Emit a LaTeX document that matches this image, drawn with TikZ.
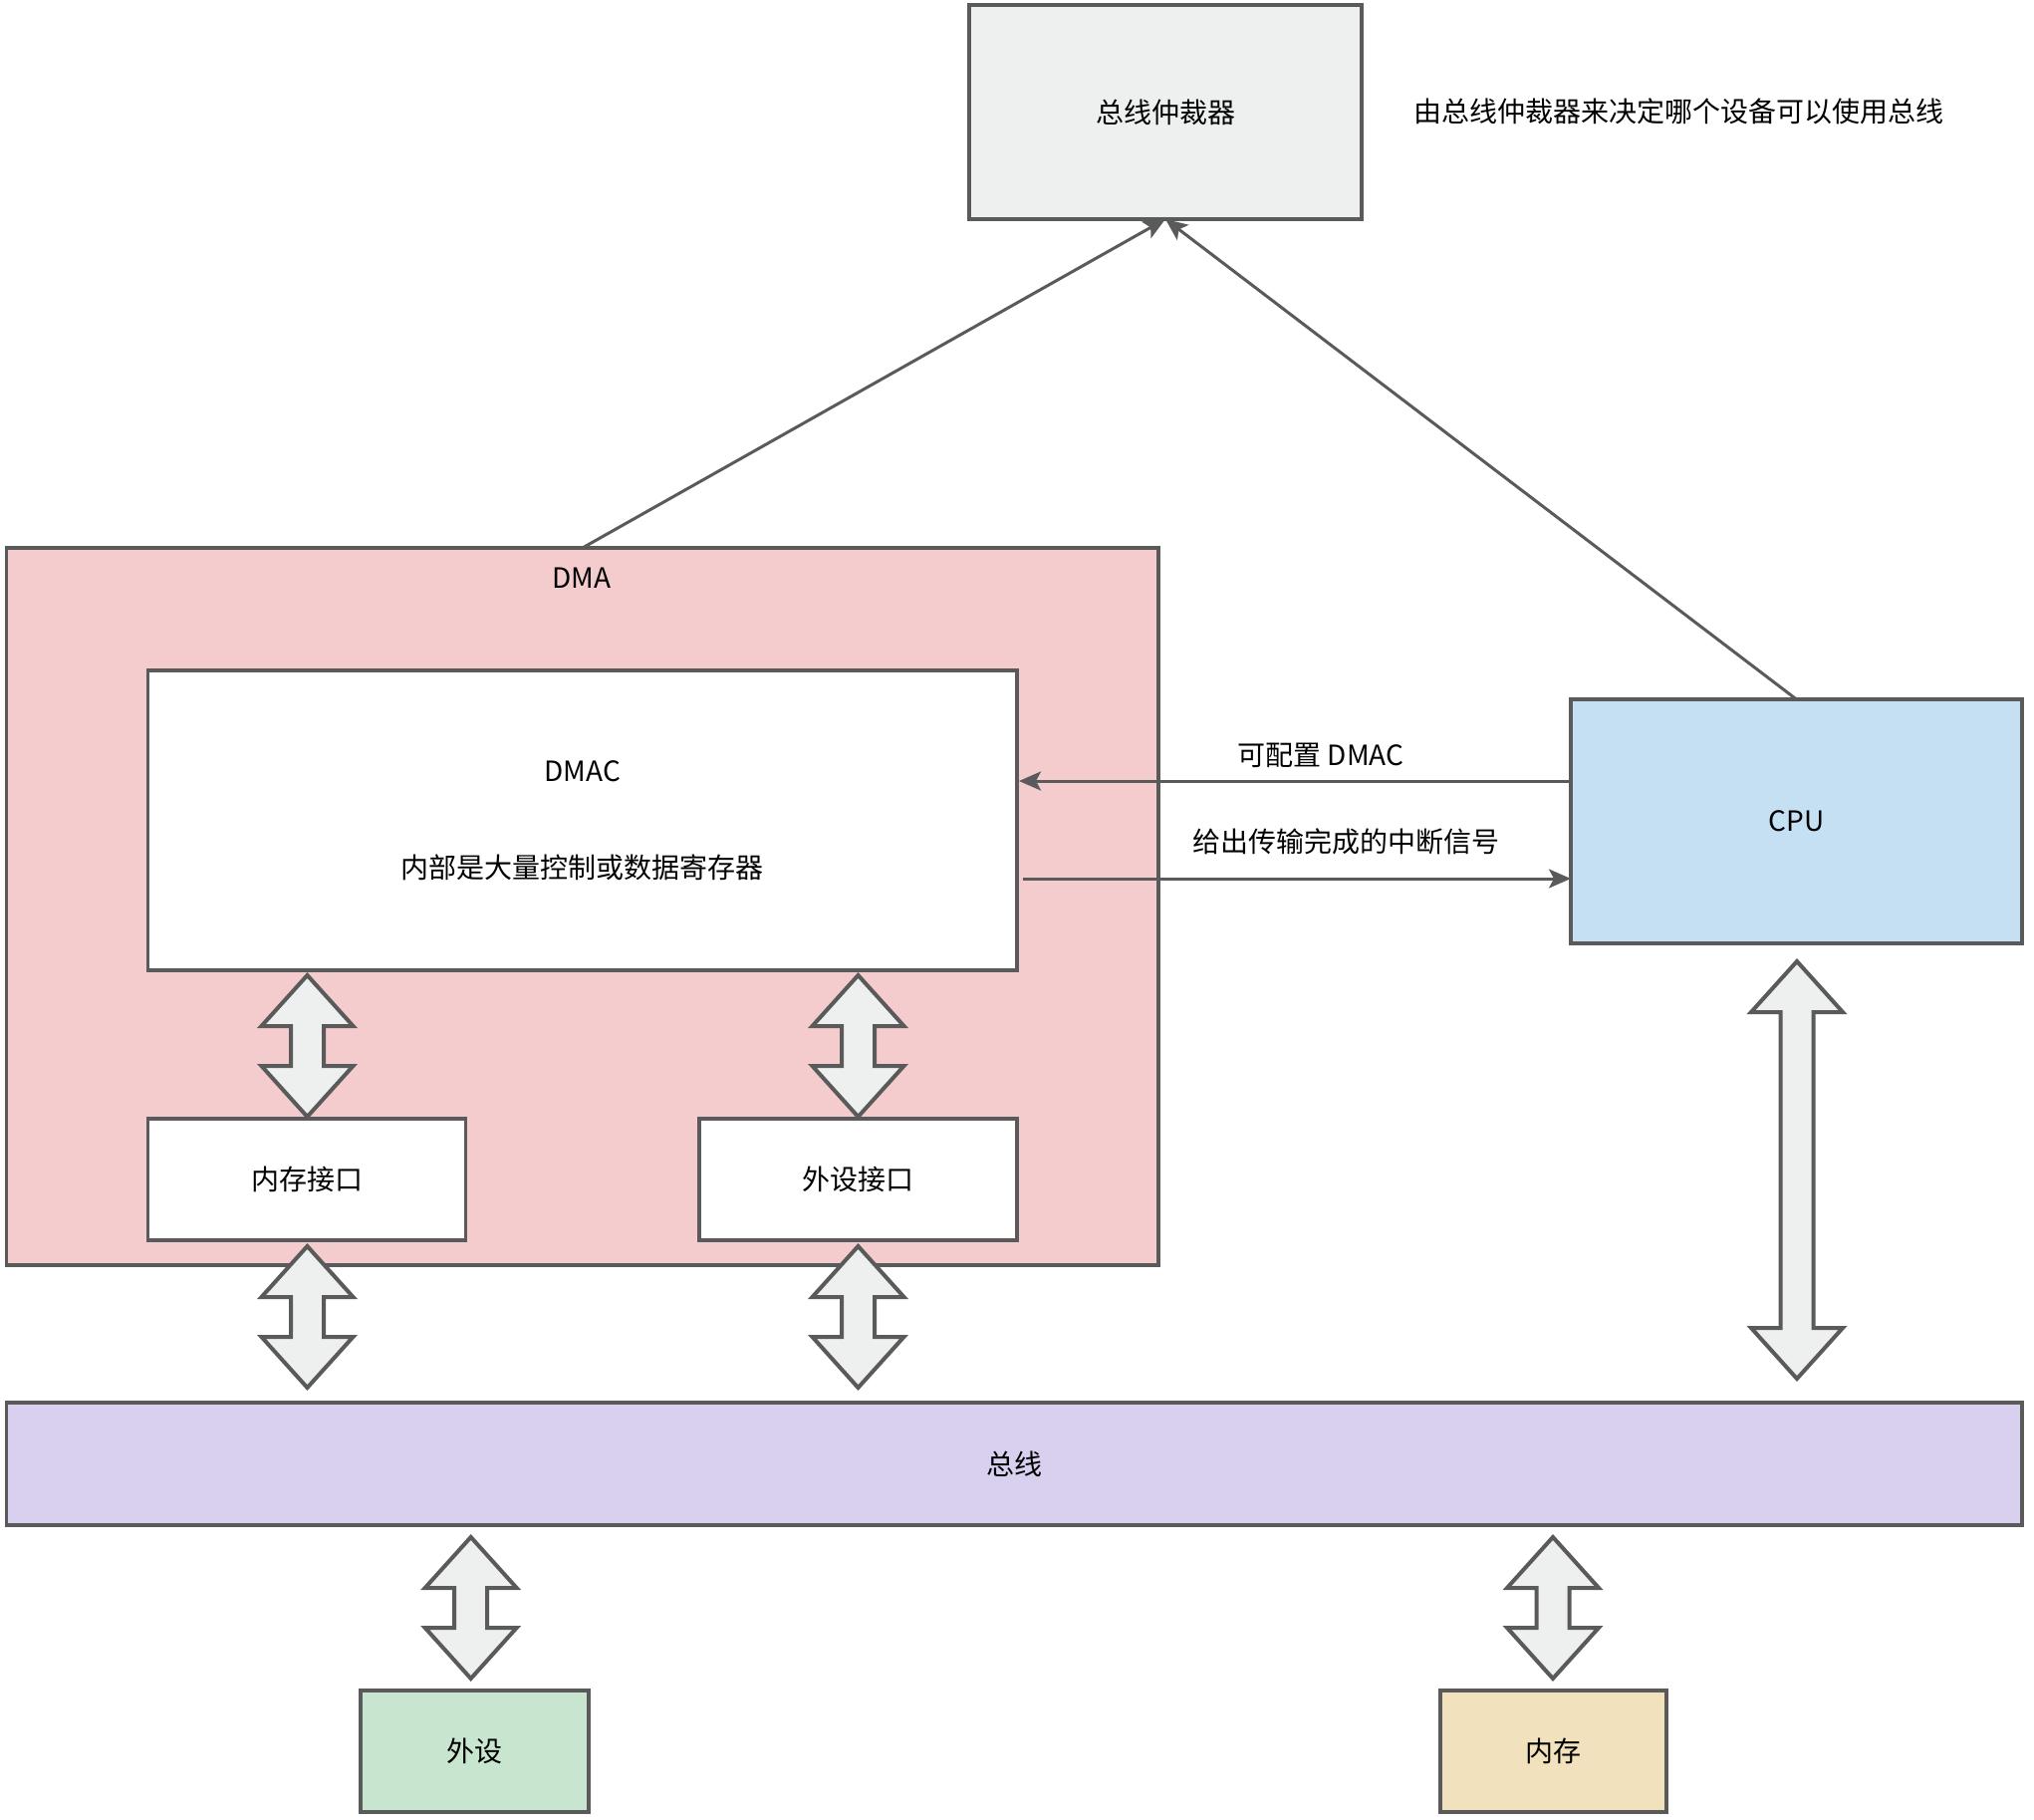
\documentclass[tikz,border=0pt]{standalone}
\usepackage{fontspec}
\setmainfont{Noto Sans CJK SC}
\usetikzlibrary{arrows.meta,calc}
\definecolor{strk}{HTML}{5A5A5A}
\definecolor{arbfill}{HTML}{EEF0EF}
\definecolor{arrfill}{HTML}{EEF0EF}
\definecolor{dmafill}{HTML}{F4CCCD}
\definecolor{cpufill}{HTML}{C5DFF3}
\definecolor{busfill}{HTML}{D9D0F0}
\definecolor{perfill}{HTML}{C8E6CF}
\definecolor{memfill}{HTML}{F2E1BD}
\newcommand\dblarr[3]{%
  \draw[barrow] (#1,#2) -- (#1+46,#2+51) -- (#1+16.5,#2+51) -- (#1+16.5,#3-51)
    -- (#1+46,#3-51) -- (#1,#3) -- (#1-46,#3-51) -- (#1-16.5,#3-51)
    -- (#1-16.5,#2+51) -- (#1-46,#2+51) -- cycle;}
\begin{document}
\begin{tikzpicture}[x=1pt,y=-1pt,
  font=\fontsize{28}{36}\selectfont,
  box/.style={draw=strk, line width=3.5pt, rectangle, inner sep=0pt, outer sep=0pt},
  conn/.style={draw=strk, line width=3pt, -{Stealth[length=22pt,width=19pt,inset=5pt]}},
  barrow/.style={draw=strk, line width=4pt, fill=arrfill, line join=miter}]
\useasboundingbox (0,0) rectangle (2042,1826);

\node[box, fill=arbfill, minimum width=394pt, minimum height=215pt] (arb) at (1170,112.5) {总线仲裁器};
\node (note) at (1685,112) {由总线仲裁器来决定哪个设备可以使用总线};

\node[box, fill=dmafill, minimum width=1156.5pt, minimum height=720pt] (dma) at (584.75,910) {};
\node (dmat) at (584,580) {DMA};
\node[box, fill=white, minimum width=872.5pt, minimum height=301pt, align=center] (dmac) at (584.75,823.5) {DMAC\\[61pt]内部是大量控制或数据寄存器};
\node[box, fill=white, minimum width=319pt, minimum height=122pt] (mif) at (308,1184) {内存接口};
\node[box, fill=white, minimum width=319pt, minimum height=122pt] (pif) at (861.5,1184) {外设接口};

\node[box, fill=cpufill, minimum width=453pt, minimum height=245pt] (cpu) at (1803.5,824.5) {CPU};
\node[box, fill=busfill, minimum width=2023.5pt, minimum height=123pt] (bus) at (1018.25,1469.5) {总线};
\node[box, fill=perfill, minimum width=229pt, minimum height=122pt] (per) at (476.5,1758) {外设};
\node[box, fill=memfill, minimum width=227pt, minimum height=122pt] (mem) at (1559.5,1758) {内存};

\dblarr{308.5}{979}{1121}
\dblarr{861.5}{979}{1121}
\dblarr{308.5}{1251}{1393}
\dblarr{861.5}{1251}{1393}
\dblarr{1804}{965}{1384}
\dblarr{472.7}{1543}{1685}
\dblarr{1559}{1543}{1685}

\draw[conn] (dma.north) -- (arb.south);
\draw[conn] (cpu.north) -- (arb.south);

\coordinate (c1) at ($(cpu.west)+(0,-40.5)$);
\coordinate (c2) at ($(cpu.west)+(0,57.5)$);
\draw[conn] (c1) -- ($(c1 -| dmac.east)+(2,0)$);
\draw[conn] ($(c2 -| dmac.east)+(6,0)$) -- (c2);
\node (l1) at (1326,758) {可配置 DMAC};
\node (l2) at (1351,845) {给出传输完成的中断信号};
\end{tikzpicture}
\end{document}
